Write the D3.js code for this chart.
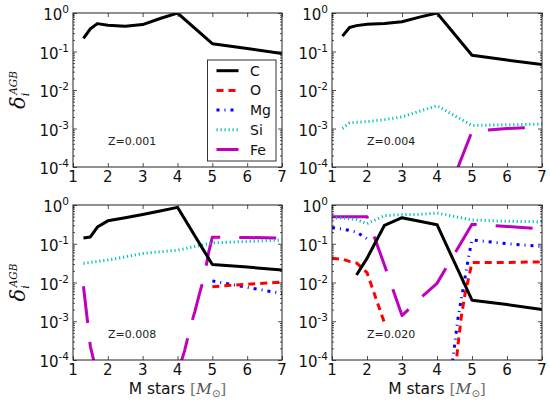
<!DOCTYPE html>
<html>
<head>
<meta charset="utf-8">
<script src="https://cdn.jsdelivr.net/npm/d3@7"></script>
<style>
  body { margin: 0; background: #fff; }
  svg { font-family: "DejaVu Sans", sans-serif; }
</style>
</head>
<body>
<div class="chart"></div>
<script>
// mass grid of the models (solar masses)
const masses = [1.0, 1.3, 1.5, 1.7, 2.0, 2.5, 3.0, 3.5, 4.0, 5.0, 6.0, 7.0];
// extra points read on the steep rise between 4 and 5
const riseMasses = [4.2, 4.4, 4.5, 4.6, 4.7, 4.8, 4.9];

const species = ['C', 'O', 'Mg', 'Si', 'Fe'];
const zLabels = ['Z=0.001', 'Z=0.004', 'Z=0.008', 'Z=0.020'];
const xTicks = [1, 2, 3, 4, 5, 6, 7];
const yTicks = [1e-4, 1e-3, 1e-2, 1e-1, 1];
const yTickExp = ['-4', '-3', '-2', '-1', '0'];

// Z=0.001
const cZ001 = [null, 0.22, 0.39, 0.53, 0.48, 0.45, 0.50, 0.72, 1.0, 0.16, 0.12, 0.089];

// Z=0.004
const cZ004 = [null, 0.25, 0.42, 0.47, 0.51, 0.53, 0.59, 0.78, 1.0, 0.08, 0.06, 0.046];
const siZ004 = [null, 1.0e-3, 1.4e-3, 1.45e-3, 1.5e-3, 1.7e-3, 2.0e-3, 2.8e-3, 3.9e-3, 1.2e-3, 1.25e-3, 1.3e-3];
const feZ004 = [null, null, null, null, null, null, null, null, 4e-6, 8.4e-4, 1.0e-3, 1.1e-3];

// Z=0.008
const cZ008 = [null, 0.14, 0.15, 0.27, 0.39, 0.47, 0.57, 0.70, 0.87, 0.029, 0.025, 0.021];
const oZ008 = [null, null, null, null, null, null, null, null, null, 7.8e-3, 9.0e-3, 1.03e-2];
const mgZ008 = [null, null, null, null, null, null, null, null, null, 1.1e-2, 7.5e-3, 5.2e-3];
const siZ008 = [null, 0.031, 0.033, 0.035, 0.038, 0.046, 0.056, 0.062, 0.068, 0.105, 0.115, 0.125];
const feZ008 = [null, 8e-3, 2.2e-4, 4e-5, null, null, null, null, 4.4e-5, 0.148, 0.145, 0.14];
const feZ008Rise = [1.7e-4, 8.9e-4, 1.8e-3, 4e-3, 8.7e-3, 2.1e-2, 6.3e-2];

// Z=0.020
const cZ020 = [null, null, null, 0.0156, 0.042, 0.30, 0.47, 0.38, 0.31, 3.5e-3, 2.7e-3, 2.0e-3];
const oZ020 = [0.042, 0.040, 0.035, 0.032, 0.018, 9e-4, null, null, null, 0.033, 0.033, 0.034];
const oZ020Rise = [null, null, 3e-5, 2.5e-4, 1.4e-3, 5e-3, 1.26e-2];
const mgZ020 = [0.26, 0.24, 0.22, 0.20, 0.135, null, null, null, null, 0.126, 0.10, 0.085];
const mgZ020Rise = [null, 4e-5, 2.3e-4, 1.2e-3, 4e-3, 1.3e-2, 4.5e-2];
const siZ020 = [0.47, 0.46, 0.44, 0.42, 0.33, 0.53, 0.57, 0.57, 0.62, 0.41, 0.38, 0.37];
const feZ020 = [0.5, 0.5, 0.5, 0.5, 0.5, 0.028, 1.4e-3, 3.8e-3, 9.5e-3, 0.32, 0.28, 0.24];

const panels = [
  { C: [cZ001] },
  { C: [cZ004], Si: [siZ004], Fe: [feZ004] },
  { C: [cZ008], O: [oZ008], Mg: [mgZ008], Si: [siZ008], Fe: [feZ008, feZ008Rise] },
  { C: [cZ020], O: [oZ020, oZ020Rise], Mg: [mgZ020, mgZ020Rise], Si: [siZ020], Fe: [feZ020] }
];

// where each panel sits on the page
const boxes = [
  { left: 73, right: 282, top: 13, bottom: 167 },
  { left: 332, right: 542, top: 13, bottom: 167 },
  { left: 73, right: 282, top: 205, bottom: 360 },
  { left: 332, right: 542, top: 205, bottom: 360 }
];

const styles = {
  C: { color: '#000000', dash: null },
  O: { color: '#ff0000', dash: '7,5' },
  Mg: { color: '#0000ff', dash: '3,5,1,5' },
  Si: { color: '#00bfbf', dash: '1.2,2.8' },
  Fe: { color: '#bf00bf', dash: '37,19' }
};

// minor log ticks 2..9 x 10^k
const minorTicks = [];
for (let k = -4; k < 0; k++) {
  for (let m = 2; m < 10; m++) minorTicks.push(m * Math.pow(10, k));
}

const svg = d3.select('.chart').append('svg')
  .attr('width', 550)
  .attr('height', 405);

function seriesPoints(base, rise) {
  const pts = masses.map((m, i) => ({ m: m, v: base[i] }));
  if (rise) {
    riseMasses.forEach((m, i) => {
      if (rise[i] != null) pts.push({ m: m, v: rise[i] });
    });
  }
  return pts.sort((a, b) => a.m - b.m);
}

panels.forEach((panel, i) => {
  const box = boxes[i];
  const x = d3.scaleLinear().domain([1, 7]).range([box.left, box.right]);
  const y = d3.scaleLog().domain([1e-4, 1]).range([box.bottom, box.top]);

  const g = svg.append('g');

  g.append('clipPath')
    .attr('id', 'clip' + i)
    .append('rect')
    .attr('x', box.left)
    .attr('y', box.top)
    .attr('width', box.right - box.left)
    .attr('height', box.bottom - box.top);

  const line = d3.line()
    .defined(d => d.v != null)
    .x(d => x(d.m))
    .y(d => y(d.v));

  const plot = g.append('g').attr('clip-path', 'url(#clip' + i + ')');

  // draw Fe first and C last, like the stacking in the figure
  ['Fe', 'Si', 'Mg', 'O', 'C'].forEach(s => {
    if (!panel[s]) return;
    plot.append('path')
      .datum(seriesPoints(panel[s][0], panel[s][1]))
      .attr('fill', 'none')
      .attr('stroke', styles[s].color)
      .attr('stroke-width', 3)
      .attr('stroke-dasharray', styles[s].dash)
      .attr('stroke-linejoin', 'round')
      .attr('d', line);
  });

  // ticks, pointing inwards on all four sides
  g.append('g')
    .attr('transform', 'translate(0,' + box.bottom + ')')
    .call(d3.axisBottom(x).tickValues(xTicks).tickSize(-4).tickSizeOuter(0).tickFormat(''));
  g.append('g')
    .attr('transform', 'translate(0,' + box.top + ')')
    .call(d3.axisTop(x).tickValues(xTicks).tickSize(-4).tickSizeOuter(0).tickFormat(''));
  g.append('g')
    .attr('transform', 'translate(' + box.left + ',0)')
    .call(d3.axisLeft(y).tickValues(yTicks).tickSize(-4).tickSizeOuter(0).tickFormat(''));
  g.append('g')
    .attr('transform', 'translate(' + box.right + ',0)')
    .call(d3.axisRight(y).tickValues(yTicks).tickSize(-4).tickSizeOuter(0).tickFormat(''));
  g.append('g')
    .attr('transform', 'translate(' + box.left + ',0)')
    .call(d3.axisLeft(y).tickValues(minorTicks).tickSize(-2).tickSizeOuter(0).tickFormat(''));
  g.append('g')
    .attr('transform', 'translate(' + box.right + ',0)')
    .call(d3.axisRight(y).tickValues(minorTicks).tickSize(-2).tickSizeOuter(0).tickFormat(''));
  g.selectAll('.domain').remove();
  g.selectAll('.tick line').attr('stroke', '#222').attr('stroke-width', 0.8);

  g.append('rect')
    .attr('x', box.left)
    .attr('y', box.top)
    .attr('width', box.right - box.left)
    .attr('height', box.bottom - box.top)
    .attr('fill', 'none')
    .attr('stroke', '#222')
    .attr('stroke-width', 1);

  // tick labels
  xTicks.forEach(t => {
    g.append('text')
      .attr('x', x(t))
      .attr('y', box.bottom + 15)
      .attr('text-anchor', 'middle')
      .attr('font-size', 15)
      .attr('fill', '#111')
      .text(t);
  });
  yTicks.forEach((t, k) => {
    const lab = g.append('text')
      .attr('x', box.left - 4)
      .attr('y', y(t) + 7)
      .attr('text-anchor', 'end')
      .attr('font-size', 15)
      .attr('fill', '#111');
    lab.append('tspan').text('10');
    lab.append('tspan')
      .attr('font-size', 10.5)
      .attr('dy', -7)
      .text(yTickExp[k]);
  });

  g.append('text')
    .attr('x', box.left + 35)
    .attr('y', box.bottom - 22)
    .attr('font-size', 11)
    .attr('fill', '#222')
    .text(zLabels[i]);

  // y label on left panels
  if (i % 2 === 0) {
    const yl = g.append('text')
      .attr('transform', 'translate(25,' + ((box.top + box.bottom) / 2) + ') rotate(-90)')
      .attr('text-anchor', 'middle')
      .attr('font-family', '"DejaVu Serif", serif')
      .attr('font-style', 'italic')
      .attr('fill', '#111');
    yl.append('tspan').attr('font-size', 21).text('δ');
    yl.append('tspan').attr('font-size', 11).attr('dy', 4).text('i');
    yl.append('tspan').attr('font-size', 10.5).attr('dx', -2).attr('dy', -12).text('AGB');
  }

  // x label on bottom panels
  if (i >= 2) {
    const xl = g.append('text')
      .attr('x', (box.left + box.right) / 2)
      .attr('y', 394)
      .attr('text-anchor', 'middle')
      .attr('font-size', 15.5)
      .attr('fill', '#111');
    xl.append('tspan').text('M stars ');
    xl.append('tspan').attr('fill', '#777').attr('font-family', '"DejaVu Serif", serif').text('[');
    xl.append('tspan').attr('font-family', '"DejaVu Serif", serif').attr('font-style', 'italic').attr('fill', '#555').text('M');
    xl.append('tspan').attr('font-size', 10).attr('dy', 3).attr('fill', '#555').text('⊙');
    xl.append('tspan').attr('fill', '#777').attr('dy', -3).attr('font-family', '"DejaVu Serif", serif').text(']');
  }
});

// legend in the first panel
const legend = svg.append('g');
legend.append('rect')
  .attr('x', 207.5)
  .attr('y', 60)
  .attr('width', 68.5)
  .attr('height', 101)
  .attr('fill', '#fff')
  .attr('stroke', '#333')
  .attr('stroke-width', 1);

species.forEach((s, k) => {
  const ly = 70.7 + k * 19.7;
  legend.append('line')
    .attr('x1', 216.5)
    .attr('x2', 238.5)
    .attr('y1', ly)
    .attr('y2', ly)
    .attr('stroke', styles[s].color)
    .attr('stroke-width', 3)
    .attr('stroke-dasharray', s === 'Fe' ? null : styles[s].dash);
  legend.append('text')
    .attr('x', 250)
    .attr('y', ly + 5)
    .attr('font-size', 14)
    .attr('fill', '#111')
    .text(s);
});
</script>
</body>
</html>
